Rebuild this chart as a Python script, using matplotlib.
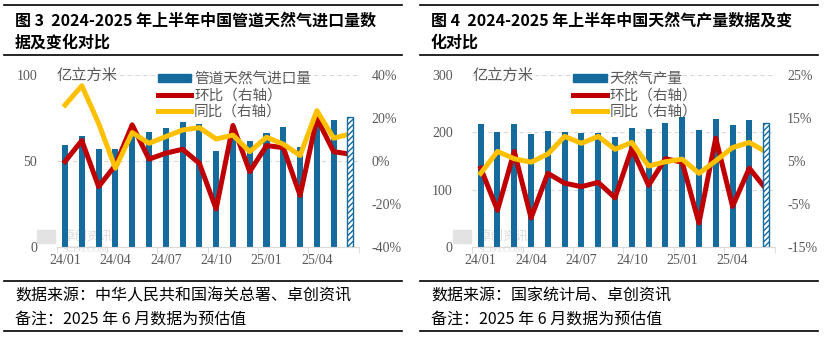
import numpy as np
import matplotlib.pyplot as plt
import matplotlib.patches as mpatches
from matplotlib.lines import Line2D

plt.rcParams['font.family'] = ['Noto Sans CJK SC', 'DejaVu Sans']

# Months 2024/01 - 2025/06 (June 2025 is an estimate)
months = ['24/01', '24/02', '24/03', '24/04', '24/05', '24/06', '24/07', '24/08', '24/09',
          '24/10', '24/11', '24/12', '25/01', '25/02', '25/03', '25/04', '25/05', '25/06']
shown_ticks = ['24/01', '24/04', '24/07', '24/10', '25/01', '25/04']

# Fig 3: pipeline gas imports (100 million m3), MoM and YoY (%)
pipe_vol = [59.2, 64.5, 56.9, 56.9, 66.6, 66.9, 69.2, 72.7, 71.5, 55.8, 64.0, 61.6,
            66.3, 69.9, 58.3, 72.5, 73.8, 75.8]
pipe_mom = [-0.3, 9.5, -12.0, -2.0, 16.8, 0.8, 3.6, 5.4, -1.1, -22.4, 16.5, -5.0,
            7.1, 6.2, -16.1, 19.9, 4.3, 3.1]
pipe_yoy = [26.0, 35.0, 17.5, -3.4, 13.2, 8.2, 11.3, 14.4, 15.5, 10.2, 12.0, 4.3,
            11.0, 7.8, 2.5, 23.4, 10.6, 12.6]

# Fig 4: natural gas production (100 million m3), MoM and YoY (%)
prod_vol = [214.4, 200.4, 214.4, 196.9, 202.1, 200.4, 198.6, 198.6, 192.2, 208.0, 205.6, 216.0,
            227.0, 204.0, 224.0, 212.6, 221.4, 215.6]
prod_mom = [3.3, -6.5, 7.2, -8.3, 2.1, -0.2, -1.0, 0.0, -3.6, 7.9, -0.7, 5.5,
            4.7, -9.5, 10.3, -5.6, 3.3, -1.6]
prod_yoy = [2.1, 7.2, 5.5, 4.7, 6.6, 10.7, 9.1, 10.7, 7.7, 9.3, 3.8, 4.8,
            5.4, 2.1, 5.0, 8.1, 9.3, 7.1]

BLUE = '#156B9C'
RED = '#C00000'
YELLOW = '#FFC000'
GRAY = '#595959'
SERIF = 'Liberation Serif'

fig = plt.figure(figsize=(8.28, 3.38), dpi=100)


def panel(left, vol, mom, yoy, vmax, vstep, plim, pstep, vol_name):
    ax = fig.add_axes([left, 0.2700, 0.3650, 0.5080])
    x = np.arange(len(months))
    ax.bar(x[:-1], vol[:-1], width=0.36, color=BLUE, zorder=2)
    ax.set_xlim(-0.5, len(months) - 0.5)
    ax.set_ylim(0, vmax)
    ax.set_yticks(np.arange(0, vmax + 1, vstep))
    ax.grid(axis='y', color='#D9D9D9', linestyle=(0, (4, 3)), linewidth=0.8, zorder=0)
    for s in ['top', 'left', 'right']:
        ax.spines[s].set_visible(False)
    ax.spines['bottom'].set_color('#D9D9D9')
    ax.tick_params(axis='y', length=0, labelcolor=GRAY, labelsize=10, pad=14)
    for lab in ax.get_yticklabels():
        lab.set_family(SERIF)

    # x ticks: labels at every 3rd month, tick marks on boundaries
    ax.set_xticks([months.index(m) for m in shown_ticks])
    ax.set_xticklabels(shown_ticks, family=SERIF, color=GRAY, fontsize=10)
    ax.tick_params(axis='x', length=0, pad=5)
    ax.set_xticks(np.arange(-0.5, len(months), 3), minor=True)
    ax.tick_params(axis='x', which='minor', length=4, color='#D9D9D9')

    ax2 = ax.twinx()
    ax2.plot(x, mom, color=RED, linewidth=3.6, zorder=3)
    ax2.plot(x, yoy, color=YELLOW, linewidth=3.6, zorder=3)
    # estimated month drawn over the lines
    ax2.bar(x[-1:], vol[-1:], width=0.36, color='white', edgecolor=BLUE,
            hatch='//////', linewidth=1.0, transform=ax.transData, zorder=5)
    ax2.set_ylim(plim[0], plim[1])
    ax2.set_yticks(np.arange(plim[0], plim[1] + 1, pstep))
    ax2.set_yticklabels(['%d%%' % v for v in np.arange(plim[0], plim[1] + 1, pstep)],
                        family=SERIF, color=GRAY, fontsize=10)
    ax2.tick_params(axis='y', length=0, pad=9)
    for s in ['top', 'left', 'right', 'bottom']:
        ax2.spines[s].set_visible(False)

    ax.text(0.0, 1.0, '亿立方米', transform=ax.transAxes, fontsize=11, color=GRAY,
            va='center', ha='left')
    handles = [mpatches.Patch(color=BLUE),
               Line2D([], [], color=RED, linewidth=3.6),
               Line2D([], [], color=YELLOW, linewidth=3.6)]
    ax2.legend(handles, [vol_name, '环比（右轴）', '同比（右轴）'], loc='upper left',
               bbox_to_anchor=(0.31, 1.06), frameon=False, fontsize=10.5,
               labelcolor=GRAY, handlelength=2.3, handleheight=0.45,
               handletextpad=0.2, labelspacing=0.15, borderpad=0)

    # watermark
    ax.add_patch(mpatches.Rectangle((-0.065, 0.02), 0.06, 0.08, transform=ax.transAxes,
                                    color='#E3E3E3', clip_on=False, zorder=1))
    ax.text(0.02, 0.06, '卓创资讯', transform=ax.transAxes, fontsize=9, color='#DADADA',
            ha='left', va='center', zorder=1)
    ax.text(0.02, -0.02, 'SCI99.COM', transform=ax.transAxes, fontsize=6.5, color='#DADADA',
            family=SERIF, ha='left', va='center', zorder=1)
    return ax


panel(0.0684, pipe_vol, pipe_mom, pipe_yoy, 100, 50, (-40, 40), 20, '管道天然气进口量')
panel(0.5704, prod_vol, prod_mom, prod_yoy, 300, 100, (-15, 25), 10, '天然气产量')

# titles, rules and notes
for x0, x1, tx, t1, t2, src in [
        (4, 402, 15, '图 3  2024-2025 年上半年中国管道天然气进口量数', '据及变化对比',
         '数据来源：中华人民共和国海关总署、卓创资讯'),
        (420, 818, 431, '图 4  2024-2025 年上半年中国天然气产量数据及变', '化对比',
         '数据来源：国家统计局、卓创资讯')]:
    for y in [5, 55, 281, 331]:
        fig.add_artist(Line2D([x0 / 828, x1 / 828], [1 - y / 338, 1 - y / 338],
                              color='black', linewidth=1.2))
    fig.text(tx / 828, 1 - 21 / 338, t1, fontsize=11.5, fontweight='bold', va='center')
    fig.text(tx / 828, 1 - 43 / 338, t2, fontsize=11.5, fontweight='bold', va='center')
    fig.text(tx / 828, 1 - 296 / 338, src, fontsize=11.5, va='center')
    fig.text(tx / 828, 1 - 319 / 338, '备注：2025 年 6 月数据为预估值', fontsize=11.5, va='center')

fig.savefig('out.png', dpi=100)
